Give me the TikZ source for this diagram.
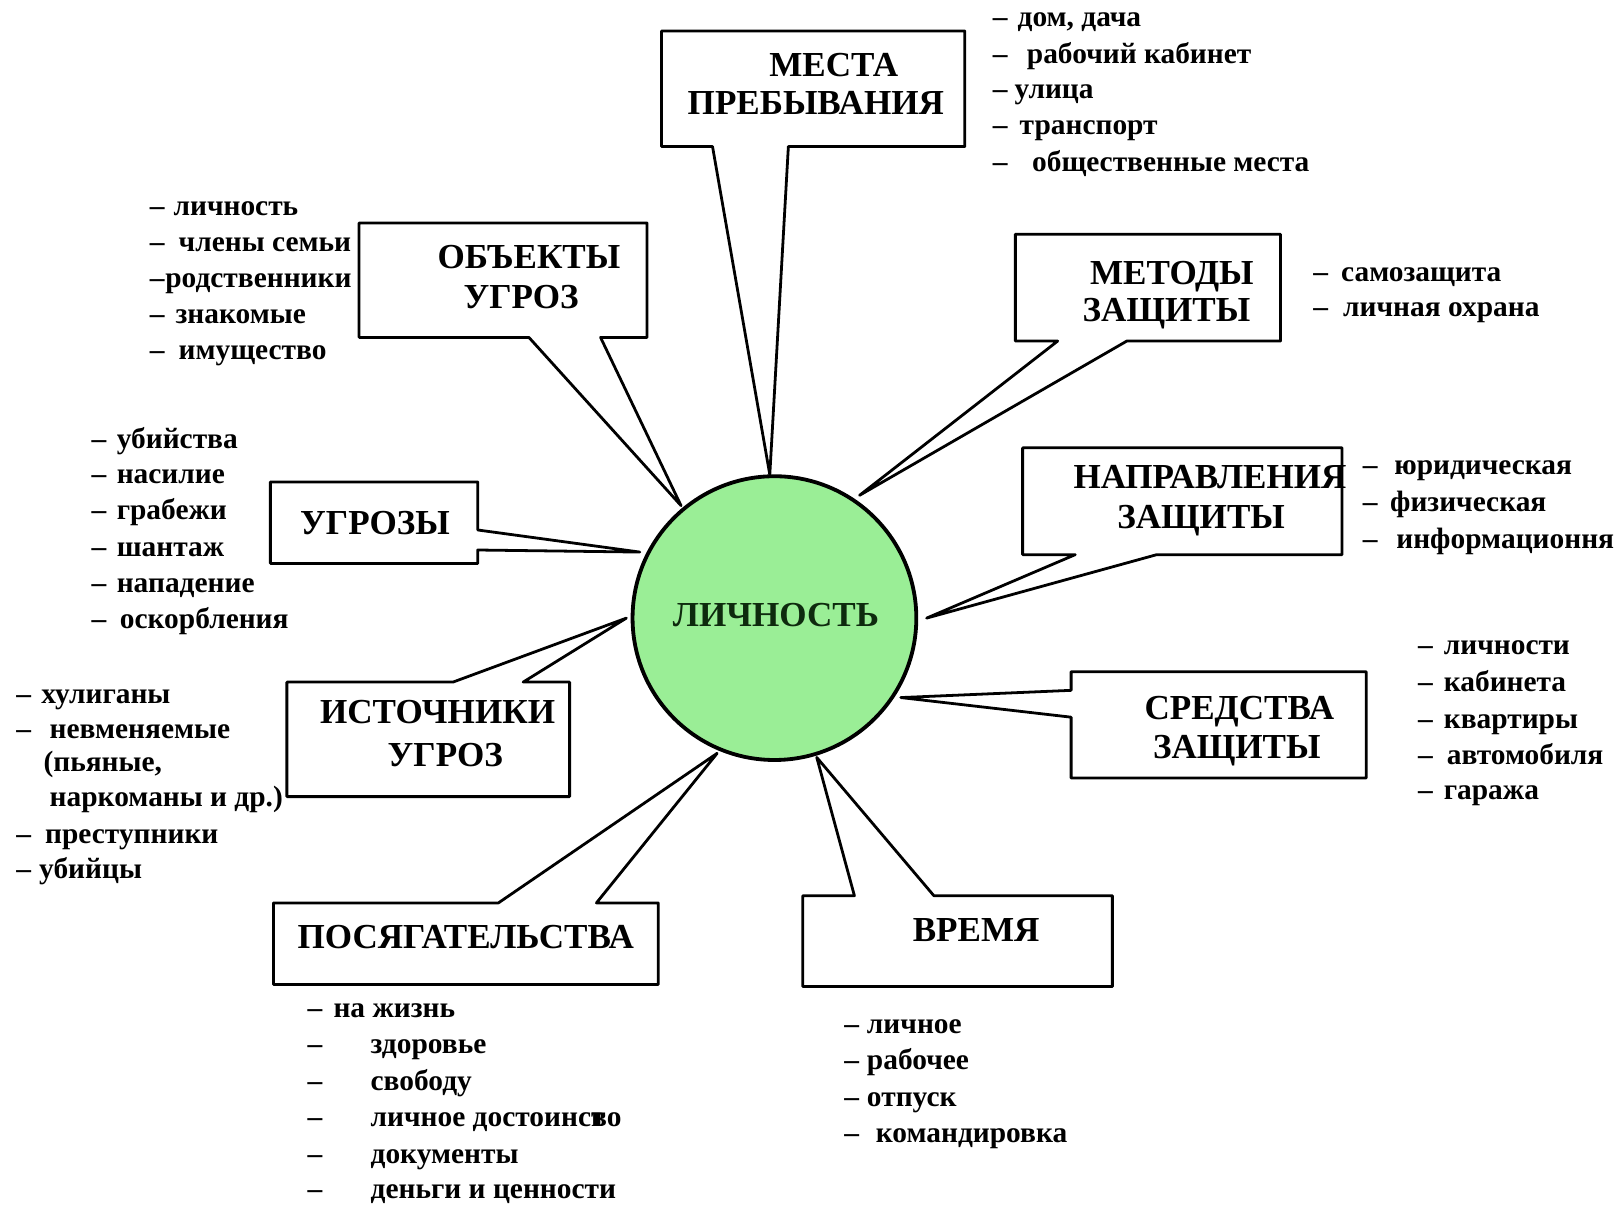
\documentclass[tikz,border=0pt]{standalone}
\usepackage{fontspec}
\setmainfont{Liberation Serif}
\definecolor{circfill}{RGB}{154,238,150}
\definecolor{ltext}{RGB}{14,42,14}
\newcommand\LItem[5]{\node[li] (#1) at (#2,#3) {\makebox[#4pt][l]{–}#5};}
\begin{document}
\begin{tikzpicture}[x=1pt,y=-1pt,
  box/.style={draw=black, fill=white, line width=2.7pt, line join=round},
  hd/.style={font=\fontsize{34}{40}\selectfont\bfseries, inner sep=0pt, text height=22.5pt, text depth=0pt, anchor=center},
  li/.style={font=\fontsize{28.5}{34}\selectfont\bfseries, inner sep=0pt, text height=13pt, text depth=0pt, anchor=west},
  pl/.style={font=\fontsize{28.5}{34}\selectfont\bfseries, inner sep=0pt, text height=13pt, text depth=0pt, anchor=west}]
\useasboundingbox (0,0) rectangle (1568,1168);
\fill[white] (0,0) rectangle (1568,1168);

% central circle
\node[circle, draw=black, line width=3.7pt, fill=circfill, minimum size=275pt, inner sep=0pt] (center) at (750.5,599) {};
\node[hd, text=ltext] (ctext) at (752,596) {ЛИЧНОСТЬ};

% tips of the callouts
\coordinate (tipA) at (746,460);
\coordinate (tipB) at (660,490);
\coordinate (tipC) at (620,535);
\coordinate (tipD) at (607,599);
\coordinate (tipE) at (695,730);
\coordinate (tipF) at (791.5,734);
\coordinate (tipG) at (873,676);
\coordinate (tipH) at (898,599);
\coordinate (tipI) at (833,480);

% callouts
\draw[box] (641,30) -- (935,30) -- (935,142) -- (764,142) -- (tipA) -- (690.5,142) -- (641,142) -- cycle;
\draw[box] (348,216) -- (627,216) -- (627,327) -- (582,327) -- (tipB) -- (512.6,327) -- (348,327) -- cycle;
\draw[box] (262,467) -- (463,467) -- (463,513.6) -- (tipC) -- (463,533) -- (463,546) -- (262,546) -- cycle;
\draw[box] (278,661) -- (439,661) -- (tipD) -- (507,661) -- (552,661) -- (552,772) -- (278,772) -- cycle;
\draw[box] (265,875) -- (483,875) -- (tipE) -- (578,875) -- (638,875) -- (638,954) -- (265,954) -- cycle;
\draw[box] (778,868) -- (828,868) -- (tipF) -- (905,868) -- (1078,868) -- (1078,956) -- (778,956) -- cycle;
\draw[box] (1038,651) -- (1324,651) -- (1324,754) -- (1038,754) -- (1038,695) -- (tipG) -- (1038,669) -- cycle;
\draw[box] (991,434) -- (1300.6,434) -- (1300.6,537.5) -- (1121,537.5) -- (tipH) -- (1042,537.5) -- (991,537.5) -- cycle;
\draw[box] (984,227) -- (1241,227) -- (1241,330.5) -- (1092,330.5) -- (tipI) -- (1025,330.5) -- (984,330.5) -- cycle;

% headings
\node[hd] (hA1) at (808,63) {МЕСТА};
\node[hd] (hA2) at (790.6,100) {ПРЕБЫВАНИЯ};
\node[hd] (hB1) at (512.6,248.7) {ОБЪЕКТЫ};
\node[hd] (hB2) at (505,287.5) {УГРОЗ};
\node[hd] (hC1) at (363.4,507) {УГРОЗЫ};
\node[hd] (hD1) at (424,689.7) {ИСТОЧНИКИ};
\node[hd] (hD2) at (431.5,731.7) {УГРОЗ};
\node[hd] (hE1) at (451.4,907.7) {ПОСЯГАТЕЛЬСТВА};
\node[hd] (hF1) at (946,901) {ВРЕМЯ};
\node[hd] (hG1) at (1201,686) {СРЕДСТВА};
\node[hd] (hG2) at (1198.6,723.6) {ЗАЩИТЫ};
\node[hd] (hH1) at (1172.6,462) {НАПРАВЛЕНИЯ};
\node[hd] (hH2) at (1164,500.7) {ЗАЩИТЫ};
\node[hd] (hI1) at (1135.6,264.8) {МЕТОДЫ};
\node[hd] (hI2) at (1130.4,300.4) {ЗАЩИТЫ};

% lists: places
\LItem{a1}{962}{19}{24}{дом, дача}
\LItem{a2}{962}{55}{33}{рабочий кабинет}
\LItem{a3}{962}{89}{21}{улица}
\LItem{a4}{962}{124}{26}{транспорт}
\LItem{a5}{962}{160}{38}{общественные места}

% objects
\LItem{b1}{145}{202}{23}{личность}
\LItem{b2}{145}{237}{28}{члены семьи}
\LItem{b3}{145}{272}{15}{родственники}
\LItem{b4}{145}{307}{25}{знакомые}
\LItem{b5}{145}{342}{28}{имущество}

% threats
\LItem{c1}{88.7}{428}{24.3}{убийства}
\LItem{c2}{88.7}{462}{24.3}{насилие}
\LItem{c3}{88.7}{497}{24.3}{грабежи}
\LItem{c4}{88.7}{533}{24.3}{шантаж}
\LItem{c5}{88.7}{568}{24.3}{нападение}
\LItem{c6}{88.7}{602.5}{27.3}{оскорбления}

% sources
\LItem{d1}{15.6}{675}{24.4}{хулиганы}
\LItem{d2}{15.6}{709}{32.4}{невменяемые}
\node[pl] (d3) at (42,741.5) {(пьяные,};
\node[pl] (d4) at (48,775) {наркоманы и др.)};
\LItem{d5}{15.6}{811}{28}{преступники}
\LItem{d6}{15.6}{845}{22.2}{убийцы}

% encroachments
\LItem{e1}{298}{980}{25}{на жизнь}
\LItem{e2}{298}{1014}{61}{здоровье}
\LItem{e3}{298}{1050}{61}{свободу}
\LItem{e4}{298}{1085}{61}{личное достоинс\rlap{т}во}
\LItem{e5}{298}{1121}{61}{документы}
\LItem{e6}{298}{1155}{61}{деньги и ценности}

% time
\LItem{f1}{818}{995}{22}{личное}
\LItem{f2}{818}{1030}{22}{рабочее}
\LItem{f3}{818}{1066}{22}{отпуск}
\LItem{f4}{818}{1101}{30.6}{командировка}

% means
\LItem{g1}{1374}{628}{25}{личности}
\LItem{g2}{1374}{664}{25}{кабинета}
\LItem{g3}{1374}{699}{25}{квартиры}
\LItem{g4}{1374}{734.5}{28}{автомобиля}
\LItem{g5}{1374}{768.5}{25}{гаража}

% directions
\LItem{h1}{1320.5}{453.6}{30.5}{юридическая}
\LItem{h2}{1320.5}{489.4}{26.5}{физическая}
\LItem{h3}{1320.5}{525}{32.5}{информационня}

% methods
\LItem{i1}{1272.5}{266.5}{27}{самозащита}
\LItem{i2}{1272.5}{300.4}{29}{личная охрана}
\end{tikzpicture}
\end{document}
